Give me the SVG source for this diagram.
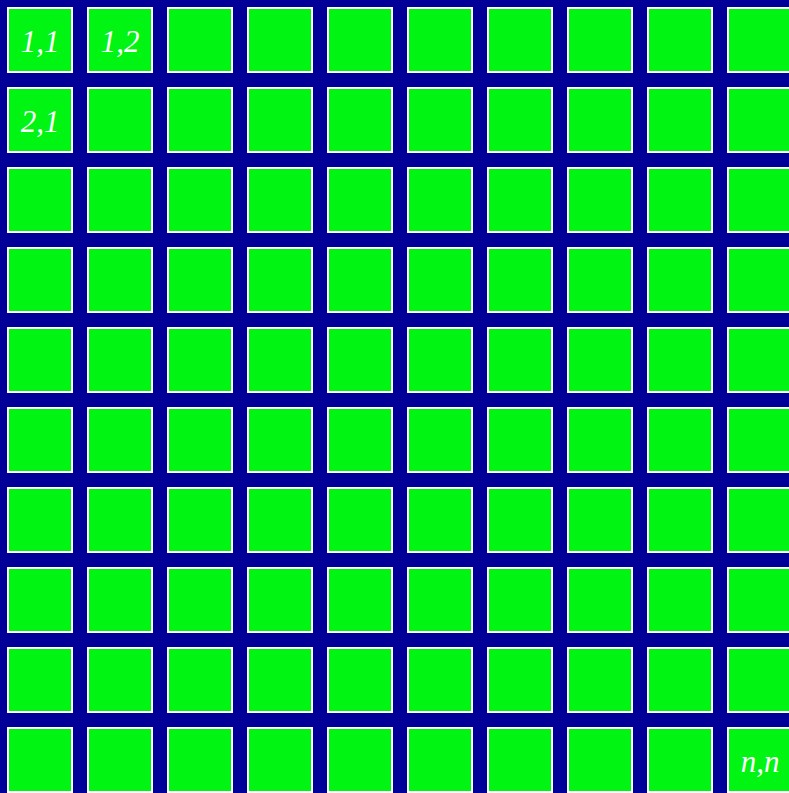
<svg xmlns="http://www.w3.org/2000/svg" width="789" height="793" viewBox="0 0 789 793">
<defs>
<style>
.c{fill:#00F512;stroke:#ffffff;stroke-width:2}
.t{fill:#ffffff;font-family:"Liberation Serif",serif;font-style:italic;font-size:31px;text-anchor:middle}
</style>
<rect id="c" class="c" width="64" height="64"/>
</defs>
<rect width="789" height="793" fill="#000099"/>
<g id="grid">
<g id="r1"><use href="#c" x="8" y="8"/><use href="#c" x="88" y="8"/><use href="#c" x="168" y="8"/><use href="#c" x="248" y="8"/><use href="#c" x="328" y="8"/><use href="#c" x="408" y="8"/><use href="#c" x="488" y="8"/><use href="#c" x="568" y="8"/><use href="#c" x="648" y="8"/><use href="#c" x="728" y="8"/></g>
<g id="r2"><use href="#c" x="8" y="88"/><use href="#c" x="88" y="88"/><use href="#c" x="168" y="88"/><use href="#c" x="248" y="88"/><use href="#c" x="328" y="88"/><use href="#c" x="408" y="88"/><use href="#c" x="488" y="88"/><use href="#c" x="568" y="88"/><use href="#c" x="648" y="88"/><use href="#c" x="728" y="88"/></g>
<g id="r3"><use href="#c" x="8" y="168"/><use href="#c" x="88" y="168"/><use href="#c" x="168" y="168"/><use href="#c" x="248" y="168"/><use href="#c" x="328" y="168"/><use href="#c" x="408" y="168"/><use href="#c" x="488" y="168"/><use href="#c" x="568" y="168"/><use href="#c" x="648" y="168"/><use href="#c" x="728" y="168"/></g>
<g id="r4"><use href="#c" x="8" y="248"/><use href="#c" x="88" y="248"/><use href="#c" x="168" y="248"/><use href="#c" x="248" y="248"/><use href="#c" x="328" y="248"/><use href="#c" x="408" y="248"/><use href="#c" x="488" y="248"/><use href="#c" x="568" y="248"/><use href="#c" x="648" y="248"/><use href="#c" x="728" y="248"/></g>
<g id="r5"><use href="#c" x="8" y="328"/><use href="#c" x="88" y="328"/><use href="#c" x="168" y="328"/><use href="#c" x="248" y="328"/><use href="#c" x="328" y="328"/><use href="#c" x="408" y="328"/><use href="#c" x="488" y="328"/><use href="#c" x="568" y="328"/><use href="#c" x="648" y="328"/><use href="#c" x="728" y="328"/></g>
<g id="r6"><use href="#c" x="8" y="408"/><use href="#c" x="88" y="408"/><use href="#c" x="168" y="408"/><use href="#c" x="248" y="408"/><use href="#c" x="328" y="408"/><use href="#c" x="408" y="408"/><use href="#c" x="488" y="408"/><use href="#c" x="568" y="408"/><use href="#c" x="648" y="408"/><use href="#c" x="728" y="408"/></g>
<g id="r7"><use href="#c" x="8" y="488"/><use href="#c" x="88" y="488"/><use href="#c" x="168" y="488"/><use href="#c" x="248" y="488"/><use href="#c" x="328" y="488"/><use href="#c" x="408" y="488"/><use href="#c" x="488" y="488"/><use href="#c" x="568" y="488"/><use href="#c" x="648" y="488"/><use href="#c" x="728" y="488"/></g>
<g id="r8"><use href="#c" x="8" y="568"/><use href="#c" x="88" y="568"/><use href="#c" x="168" y="568"/><use href="#c" x="248" y="568"/><use href="#c" x="328" y="568"/><use href="#c" x="408" y="568"/><use href="#c" x="488" y="568"/><use href="#c" x="568" y="568"/><use href="#c" x="648" y="568"/><use href="#c" x="728" y="568"/></g>
<g id="r9"><use href="#c" x="8" y="648"/><use href="#c" x="88" y="648"/><use href="#c" x="168" y="648"/><use href="#c" x="248" y="648"/><use href="#c" x="328" y="648"/><use href="#c" x="408" y="648"/><use href="#c" x="488" y="648"/><use href="#c" x="568" y="648"/><use href="#c" x="648" y="648"/><use href="#c" x="728" y="648"/></g>
<g id="r10"><use href="#c" x="8" y="728"/><use href="#c" x="88" y="728"/><use href="#c" x="168" y="728"/><use href="#c" x="248" y="728"/><use href="#c" x="328" y="728"/><use href="#c" x="408" y="728"/><use href="#c" x="488" y="728"/><use href="#c" x="568" y="728"/><use href="#c" x="648" y="728"/><use href="#c" x="728" y="728"/></g>
</g>
<g id="labels">
<text class="t" x="40" y="52">1,1</text>
<text class="t" x="120" y="52">1,2</text>
<text class="t" x="40" y="132">2,1</text>
<text class="t" x="760" y="772">n,n</text>
</g>
</svg>
